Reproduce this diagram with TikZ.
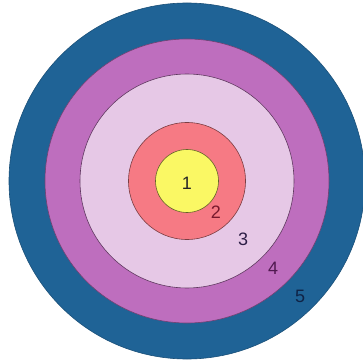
\documentclass[tikz,border=0pt]{standalone}
\usepackage{fontspec}
\setmainfont{Liberation Sans}
\definecolor{ringblue}{RGB}{31,99,150}
\definecolor{ringpurple}{RGB}{190,110,190}
\definecolor{ringlilac}{RGB}{230,200,230}
\definecolor{ringred}{RGB}{246,122,132}
\definecolor{ringyellow}{RGB}{250,248,100}
\tikzset{
  ring/.style={circle, draw=black!60, line width=0.6pt, inner sep=0pt},
  ringlabel/.style={font=\fontsize{18}{18}\selectfont, inner sep=0pt}
}
\begin{document}
\begin{tikzpicture}[x=1pt,y=-1pt]
  \useasboundingbox[fill=white] (0,0) rectangle (362,363);
  \node[ring, draw=ringblue!80!black, fill=ringblue, minimum size=356pt] (ring5) at (187,181) {};
  \node[ring, draw=ringpurple!60!black, fill=ringpurple, minimum size=284pt] (ring4) at (187,181) {};
  \node[ring, draw=ringpurple!50!black, fill=ringlilac, minimum size=214pt] (ring3) at (187,181) {};
  \node[ring, draw=ringred!50!black, fill=ringred, minimum size=117pt] (ring2) at (187,181) {};
  \node[ring, draw=ringyellow!40!black, fill=ringyellow, minimum size=63pt] (ring1) at (187,181) {};

  \node[ringlabel, text=black!85] (num1) at (187,183) {1};
  \node[ringlabel, text={rgb,255:red,120;green,25;blue,45}] (num2) at (216,212) {2};
  \node[ringlabel, text={rgb,255:red,45;green,30;blue,70}] (num3) at (243,239) {3};
  \node[ringlabel, text={rgb,255:red,80;green,25;blue,80}] (num4) at (273,268) {4};
  \node[ringlabel, text={rgb,255:red,15;green,35;blue,70}] (num5) at (300,296) {5};
\end{tikzpicture}
\end{document}
